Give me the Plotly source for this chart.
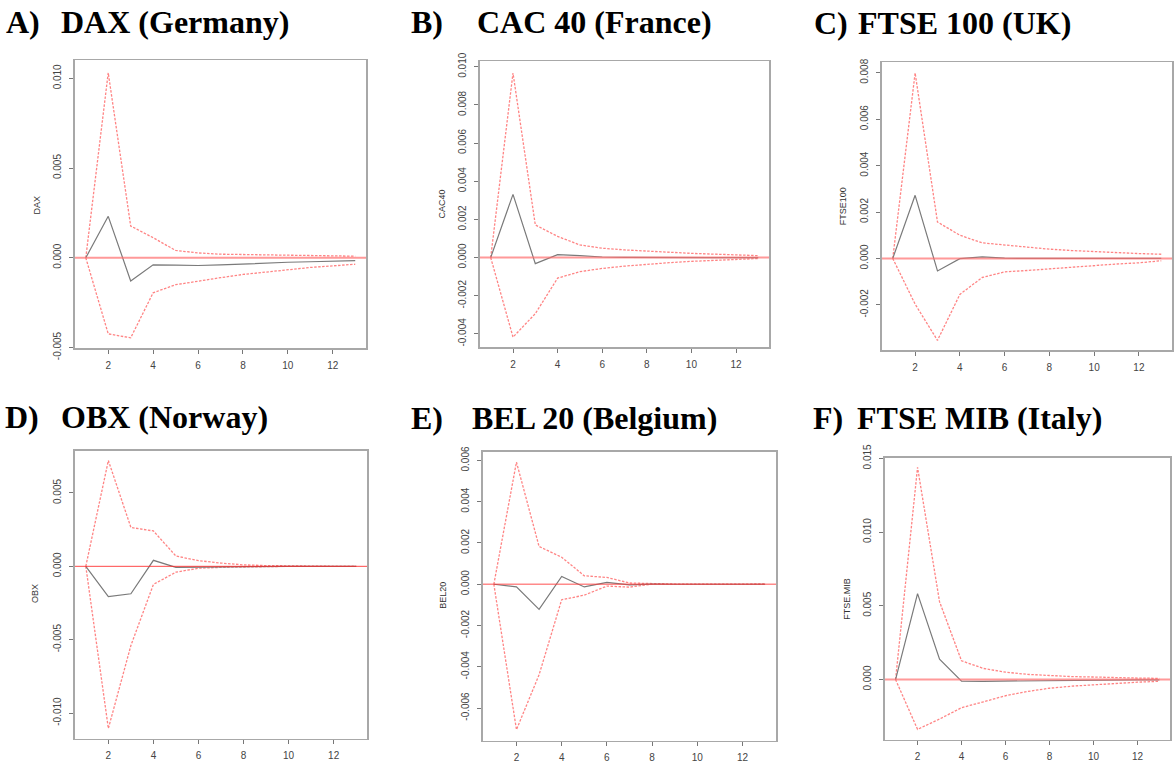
import plotly.graph_objects as go

# ---------------- data ----------------
horizon = list(range(1, 14))

panel_letters = ["A)", "B)", "C)", "D)", "E)", "F)"]
panel_titles = ["DAX (Germany)", "CAC 40 (France)", "FTSE 100 (UK)",
                "OBX (Norway)", "BEL 20 (Belgium)", "FTSE MIB (Italy)"]
y_titles = ["DAX", "CAC40", "FTSE100", "OBX", "BEL20", "FTSE.MIB"]

x_tick_vals = [2, 4, 6, 8, 10, 12]
x_tick_labels = ["2", "4", "6", "8", "10", "12"]

y_tick_labels = [
    ["-0.005", "0.000", "0.005", "0.010"],
    ["-0.004", "-0.002", "0.000", "0.002", "0.004", "0.006", "0.008", "0.010"],
    ["-0.002", "0.000", "0.002", "0.004", "0.006", "0.008"],
    ["-0.010", "-0.005", "0.000", "0.005"],
    ["-0.006", "-0.004", "-0.002", "0.000", "0.002", "0.004", "0.006"],
    ["0.000", "0.005", "0.010", "0.015"],
]

dax_irf = [0, 0.00231, -0.00129, -0.00039, -0.00041, -0.00043, -0.0004, -0.00034, -0.0003, -0.00025, -0.00022, -0.00019, -0.00016]
dax_upper = [0, 0.01031, 0.00177, 0.00112, 0.00041, 0.00027, 0.0002, 0.00018, 0.00016, 0.00015, 0.00012, 0.0001, 0.00009]
dax_lower = [0, -0.00424, -0.00446, -0.00195, -0.0015, -0.00129, -0.00111, -0.00093, -0.00079, -0.00064, -0.00054, -0.00045, -0.00036]

cac_irf = [0, 0.00331, -0.00032, 0.00015, 0.0001, 0.00003, 0.00001, 0, 0, 0, 0, 0, 0]
cac_upper = [0, 0.00967, 0.00171, 0.00111, 0.00066, 0.00049, 0.0004, 0.00033, 0.00027, 0.00022, 0.00018, 0.00013, 0.0001]
cac_lower = [0, -0.00417, -0.00294, -0.00108, -0.00074, -0.00057, -0.00045, -0.00035, -0.00027, -0.0002, -0.00015, -0.0001, -0.00005]

ftse_irf = [0, 0.00272, -0.00054, -0.00001, 0.00007, 0.00001, 0, 0, 0, 0, 0, 0, 0]
ftse_upper = [0, 0.00799, 0.00157, 0.001, 0.00067, 0.00057, 0.00048, 0.0004, 0.00034, 0.00029, 0.00025, 0.00021, 0.00018]
ftse_lower = [0, -0.00197, -0.00353, -0.00155, -0.00082, -0.00058, -0.00052, -0.00045, -0.00036, -0.00029, -0.00024, -0.00019, -0.0001]

obx_irf = [0, -0.00206, -0.00187, 0.00041, -0.00007, -0.00005, -0.00002, 0, 0, 0, 0, 0, 0]
obx_upper = [0, 0.00721, 0.00265, 0.00241, 0.0007, 0.00039, 0.00022, 0.0001, 0.00005, 0.00002, 0.00001, 0, 0]
obx_lower = [0, -0.01105, -0.0054, -0.00123, -0.0004, -0.00013, -0.00007, -0.00003, -0.00001, 0, 0, 0, 0]

bel_irf = [0, -0.00013, -0.00122, 0.00038, -0.00013, 0.00009, -0.00003, 0.00001, 0, 0, 0, 0, 0]
bel_upper = [0, 0.00592, 0.00183, 0.00131, 0.00041, 0.00033, 0.00006, 0.00002, 0.00001, 0.00001, 0.00001, 0.00001, 0.00001]
bel_lower = [0, -0.00705, -0.00439, -0.00075, -0.00053, -0.00009, -0.00014, 0.00001, -0.00001, 0, 0, 0, 0]

mib_irf = [0, 0.00583, 0.00138, -0.00011, -0.00012, -0.0001, -0.00008, -0.00006, -0.00005, -0.00004, -0.00003, -0.00002, -0.00002]
mib_upper = [0, 0.01439, 0.00528, 0.00127, 0.00075, 0.0005, 0.00035, 0.00027, 0.0002, 0.00017, 0.00012, 0.0001, 0.00008]
mib_lower = [0, -0.00338, -0.00268, -0.00191, -0.00151, -0.0011, -0.00081, -0.00059, -0.00045, -0.00035, -0.00025, -0.00018, -0.00012]

irfs = [dax_irf, cac_irf, ftse_irf, obx_irf, bel_irf, mib_irf]
uppers = [dax_upper, cac_upper, ftse_upper, obx_upper, bel_upper, mib_upper]
lowers = [dax_lower, cac_lower, ftse_lower, obx_lower, bel_lower, mib_lower]

# ---------------- layout geometry (pixels) ----------------
W, H = 1174, 776
boxes = [  # x0, x1, y0(top), y1(bottom)
    (75, 366, 48, 346),
    (480, 769, 49, 345),
    (882, 1172, 50, 348),
    (75, 367, 452, 750),
    (483, 776, 453, 752),
    (885, 1170, 459, 751),
]
y_ranges = [
    (-0.00505, 0.0110),
    (-0.00471, 0.01028),
    (-0.00396, 0.00845),
    (-0.01176, 0.00787),
    (-0.00759, 0.00642),
    (-0.00409, 0.01505),
]
TY = 12  # vertical correction for the title text anchor
letter_pos = [(4, 20 - TY), (409, 20 - TY), (812, 21 - TY), (3, 429 - TY), (409, 430 - TY), (811, 430 - TY)]
title_pos = [(59, 20 - TY), (475, 20 - TY), (856, 21 - TY), (59, 429 - TY), (470, 430 - TY), (855, 430 - TY)]
ytitle_pos = [(37, 197), (442, 197), (843, 199), (35, 600), (443, 602), (847, 605)]
zero_line_styles = [
    ("rgba(255,110,110,0.7)", 2),
    ("rgba(255,110,110,0.7)", 2),
    ("rgba(255,110,110,0.7)", 2),
    ("rgba(255,40,40,0.85)", 1),
    ("rgba(255,60,60,0.6)", 1.5),
    ("rgba(255,110,110,0.7)", 2),
]

fig = go.Figure()
shapes = []
annotations = []

for i in range(6):
    xa = "x" if i == 0 else f"x{i+1}"
    ya = "y" if i == 0 else f"y{i+1}"
    x0, x1, yt, yb = boxes[i]
    for band in (uppers[i], lowers[i]):
        fig.add_trace(go.Scatter(
            x=horizon, y=band, mode="lines", xaxis=xa, yaxis=ya,
            line=dict(color="rgba(255,50,50,0.6)", width=1.3, dash="2.5px,1.5px"),
            showlegend=False, hoverinfo="skip"))
    fig.add_trace(go.Scatter(
        x=horizon, y=irfs[i], mode="lines", xaxis=xa, yaxis=ya,
        line=dict(color="#7a7a7a", width=1.2),
        showlegend=False, hoverinfo="skip"))

    axis_common = dict(
        showline=True, mirror=True, linecolor="#a8a8a8", linewidth=1.6,
        ticks="outside", ticklen=4, tickcolor="#777777", tickwidth=1,
        showgrid=False, zeroline=False,
        tickfont=dict(family="Liberation Sans, Arial", size=10, color="#444"),
    )
    fig.layout[("xaxis" if i == 0 else f"xaxis{i+1}")] = dict(
        domain=[x0 / W, x1 / W], anchor=ya, range=[0.52, 13.48],
        tickmode="array", tickvals=x_tick_vals, ticktext=x_tick_labels,
        ticklabelstandoff=3, **axis_common)
    tl = y_tick_labels[i]
    fig.layout[("yaxis" if i == 0 else f"yaxis{i+1}")] = dict(
        domain=[1 - yb / H, 1 - yt / H], anchor=xa, range=list(y_ranges[i]),
        tickmode="array", tickvals=[float(t) for t in tl], ticktext=tl,
        tickangle=-90, ticklabelstandoff=4, **axis_common)

    col, wd = zero_line_styles[i]
    shapes.append(dict(type="line", xref=f"{xa} domain", yref=ya,
                       x0=0, x1=1, y0=0, y1=0, layer="above",
                       line=dict(color=col, width=wd)))

    lx, ly = letter_pos[i]
    tx, ty = title_pos[i]
    annotations.append(dict(text=f"<b>{panel_letters[i]}</b>", xref="paper", yref="paper",
                            x=lx / W, y=1 - ly / H, xanchor="left", yanchor="middle",
                            showarrow=False,
                            font=dict(family="Liberation Serif, Times New Roman", size=32, color="black")))
    annotations.append(dict(text=f"<b>{panel_titles[i]}</b>", xref="paper", yref="paper",
                            x=tx / W, y=1 - ty / H, xanchor="left", yanchor="middle",
                            showarrow=False,
                            font=dict(family="Liberation Serif, Times New Roman", size=32, color="black")))
    ax_, ay_ = ytitle_pos[i]
    annotations.append(dict(text=y_titles[i], xref="paper", yref="paper",
                            x=ax_ / W, y=1 - ay_ / H, xanchor="center", yanchor="middle",
                            textangle=-90, showarrow=False,
                            font=dict(family="Liberation Sans, Arial", size=9, color="#333")))

fig.update_layout(
    width=W, height=H, margin=dict(l=0, r=0, t=0, b=0),
    paper_bgcolor="white", plot_bgcolor="white",
    shapes=shapes, annotations=annotations, showlegend=False,
)

fig.write_html(
    "out.html",
    config={"displayModeBar": False, "staticPlot": True},
    post_script="document.body.style.margin='0';document.body.style.overflow='hidden';",
)
